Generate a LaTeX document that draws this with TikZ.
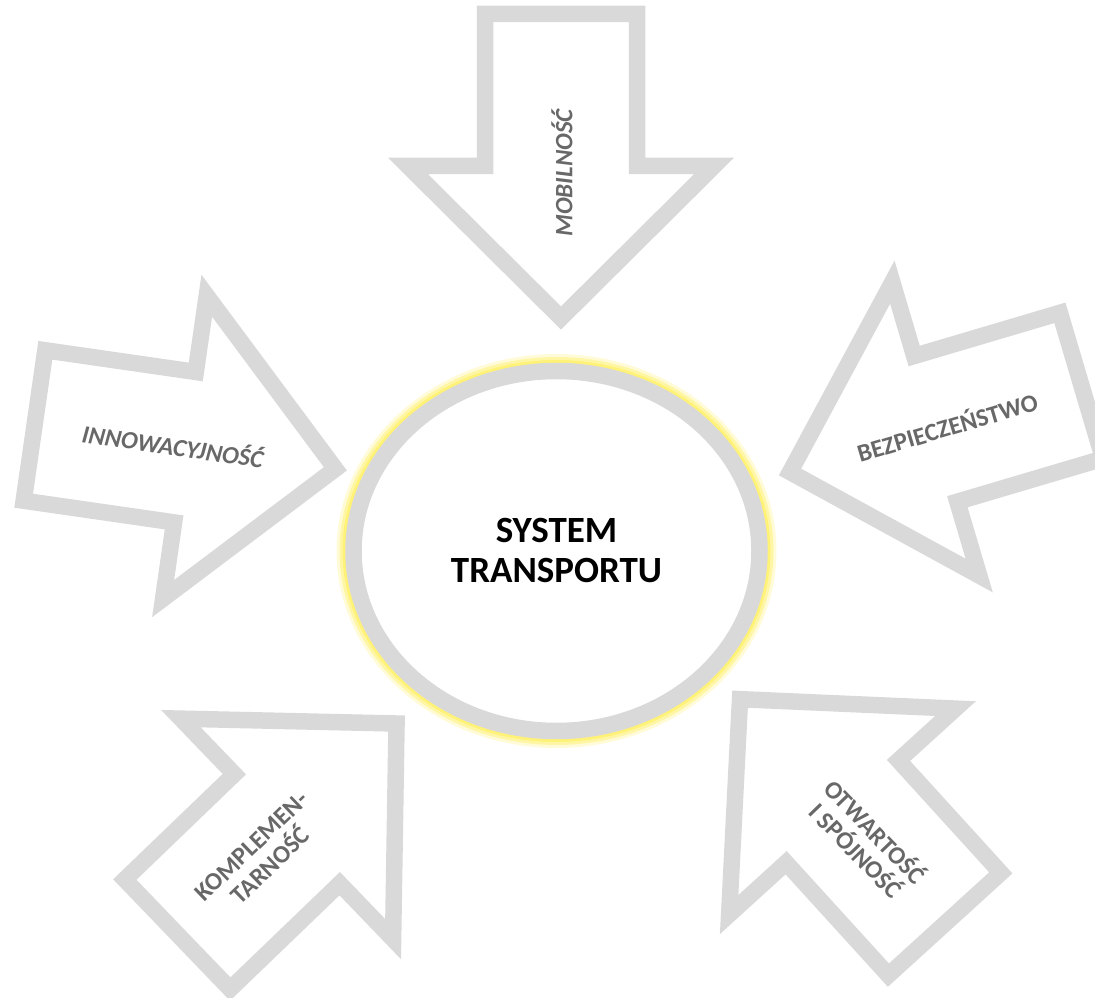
\documentclass[tikz,border=0pt]{standalone}
\usepackage{fontspec}
\setmainfont{Carlito}
\usetikzlibrary{shapes.geometric}

\definecolor{arrowgray}{HTML}{D9D9D9}
\definecolor{taggray}{HTML}{686868}
\definecolor{glow}{HTML}{FFF066}

\tikzset{
  bigarrow/.pic={
    \draw[arrowgray,line width=16.5pt,line join=miter,fill=white]
      (0,76) -- (152,76) -- (152,153) -- (304,0) -- (152,-153) -- (152,-76) -- (0,-76) -- cycle;
  }
}

\begin{document}
\begin{tikzpicture}[x=1pt,y=1pt,
  tag/.style={text=taggray,font=\fontsize{25}{27}\selectfont\bfseries,align=center},
  tagit/.style={tag,font=\fontsize{25}{27}\selectfont\bfseries\itshape},
  hub/.style={ellipse,draw=arrowgray,line width=16.5pt,fill=white,
    minimum width=406pt,minimum height=360pt,inner sep=0pt,
    font=\fontsize{37}{40}\selectfont\bfseries,align=center,
    preaction={draw=glow,line width=34pt,draw opacity=0.25},
    preaction={draw=glow,line width=28pt,draw opacity=0.45},
    preaction={draw=glow,line width=22pt,draw opacity=0.75}}]
	\useasboundingbox (0,0) rectangle (1095,997);
	\clip (0,0) rectangle (1095,997);
	% the five arrows
	\pic[rotate=-90] at (561,983) {bigarrow};
	\pic[rotate=-8.2] at (34.5,571.5) {bigarrow};
	\pic[rotate=196.5] at (1081.5,611.3) {bigarrow};
	\pic[rotate=43.9] at (177.5,62.7) {bigarrow};
	\pic[rotate=132.3] at (944.6,73) {bigarrow};
	% centre
	\node[hub] (sys) at (556.5,446) {SYSTEM\\TRANSPORTU};
	% arrow texts
	\node[tagit,rotate=90] (mob) at (562,824) {MOBILNOŚĆ};
	\node[tagit,rotate=-8.2] (inn) at (173,552) {INNOWACYJNOŚĆ};
	\node[tag,rotate=16.5] (bez) at (947,571) {BEZPIECZEŃSTWO};
	\node[tag,rotate=43.9] (kom) at (261,141) {KOMPLEMEN-\\TARNOŚĆ};
	\node[tag,rotate=-46] (otw) at (866.5,157) {OTWARTOŚĆ\\I SPÓJNOŚĆ};
\end{tikzpicture}
\end{document}
